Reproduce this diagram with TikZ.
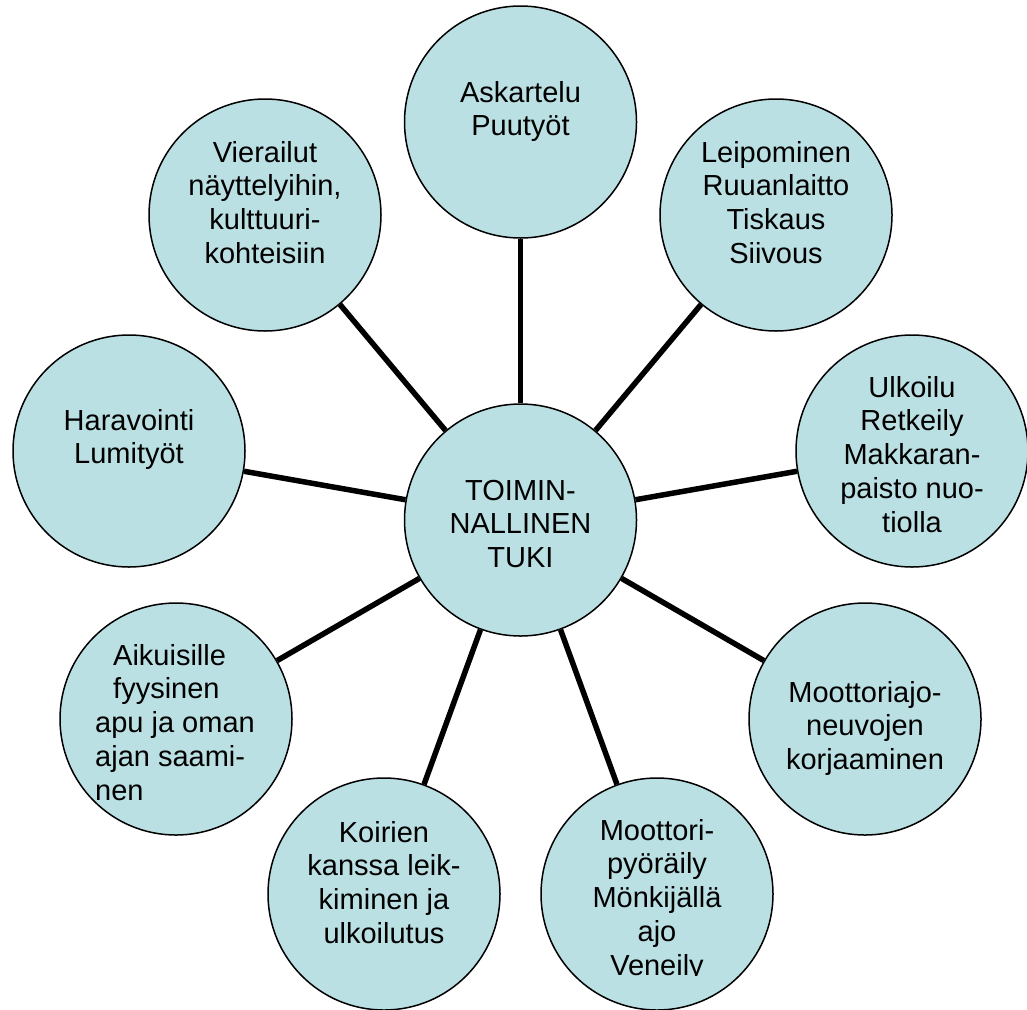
\documentclass[tikz,border=0pt]{standalone}
\usepackage{fontspec}
\setmainfont{Liberation Sans}
\definecolor{bub}{RGB}{187,224,227}
\newcommand\lblines[1]{\begin{tabular}[t]{@{}c@{}}#1\end{tabular}}
\begin{document}
\begin{tikzpicture}[x=1pt,y=-1pt,
  bubble/.style={circle,draw=black,line width=1.5pt,fill=bub,minimum size=232pt,inner sep=0pt},
  link/.style={line width=5.5pt,draw=black},
  lbl/.style={inner sep=0pt,anchor=base,font=\fontsize{29}{33.8}\selectfont}]
\useasboundingbox (0,0) rectangle (1027,1009);
% circles
\node[bubble] (ctr) at (520.5,520) {};
\node[bubble] (b1) at (520.5,122) {};
\node[bubble] (b2) at (776,215) {};
\node[bubble] (b3) at (912,451) {};
\node[bubble] (b4) at (865,719) {};
\node[bubble] (b5) at (657,894) {};
\node[bubble] (b6) at (384,894) {};
\node[bubble] (b7) at (176,719) {};
\node[bubble] (b8) at (129,451) {};
\node[bubble] (b9) at (265,215) {};
% connectors
\foreach \n in {b1,b2,b3,b4,b5,b6,b7,b8,b9}
  \draw[link] (ctr) -- (\n);
% labels
\node[lbl] (t0) at (520.5,500) {\lblines{TOIMIN-\\NALLINEN\\TUKI}};
\node[lbl] (t1) at (520.5,102) {\lblines{Askartelu\\Puutyöt}};
\node[lbl] (t2) at (776,162) {\lblines{Leipominen\\Ruuanlaitto\\Tiskaus\\Siivous}};
\node[lbl] (t3) at (912,397) {\lblines{Ulkoilu\\Retkeily\\Makkaran-\\paisto nuo-\\tiolla}};
\node[lbl] (t4) at (865,702) {\lblines{Moottoriajo-\\neuvojen\\korjaaminen}};
\begin{scope}
  \clip (540,780) rectangle (780,975.5);
  \node[lbl] (t5) at (657,840) {\lblines{Moottori-\\pyöräily\\Mönkijällä\\ajo\\Veneily}};
\end{scope}
\node[lbl] (t6) at (384,842) {\lblines{Koirien\\kanssa leik-\\kiminen ja\\ulkoilutus}};
\node[lbl,anchor=base west] (t7) at (95,665) {\begin{tabular}[t]{@{}l@{}}\hspace{18pt}Aikuisille\\\hspace{18pt}fyysinen\\apu ja oman\\ajan saami-\\nen\end{tabular}};
\node[lbl] (t8) at (129,430) {\lblines{Haravointi\\Lumityöt}};
\node[lbl] (t9) at (265,162) {\lblines{Vierailut\\näyttelyihin,\\kulttuuri-\\kohteisiin}};
\end{tikzpicture}
\end{document}
